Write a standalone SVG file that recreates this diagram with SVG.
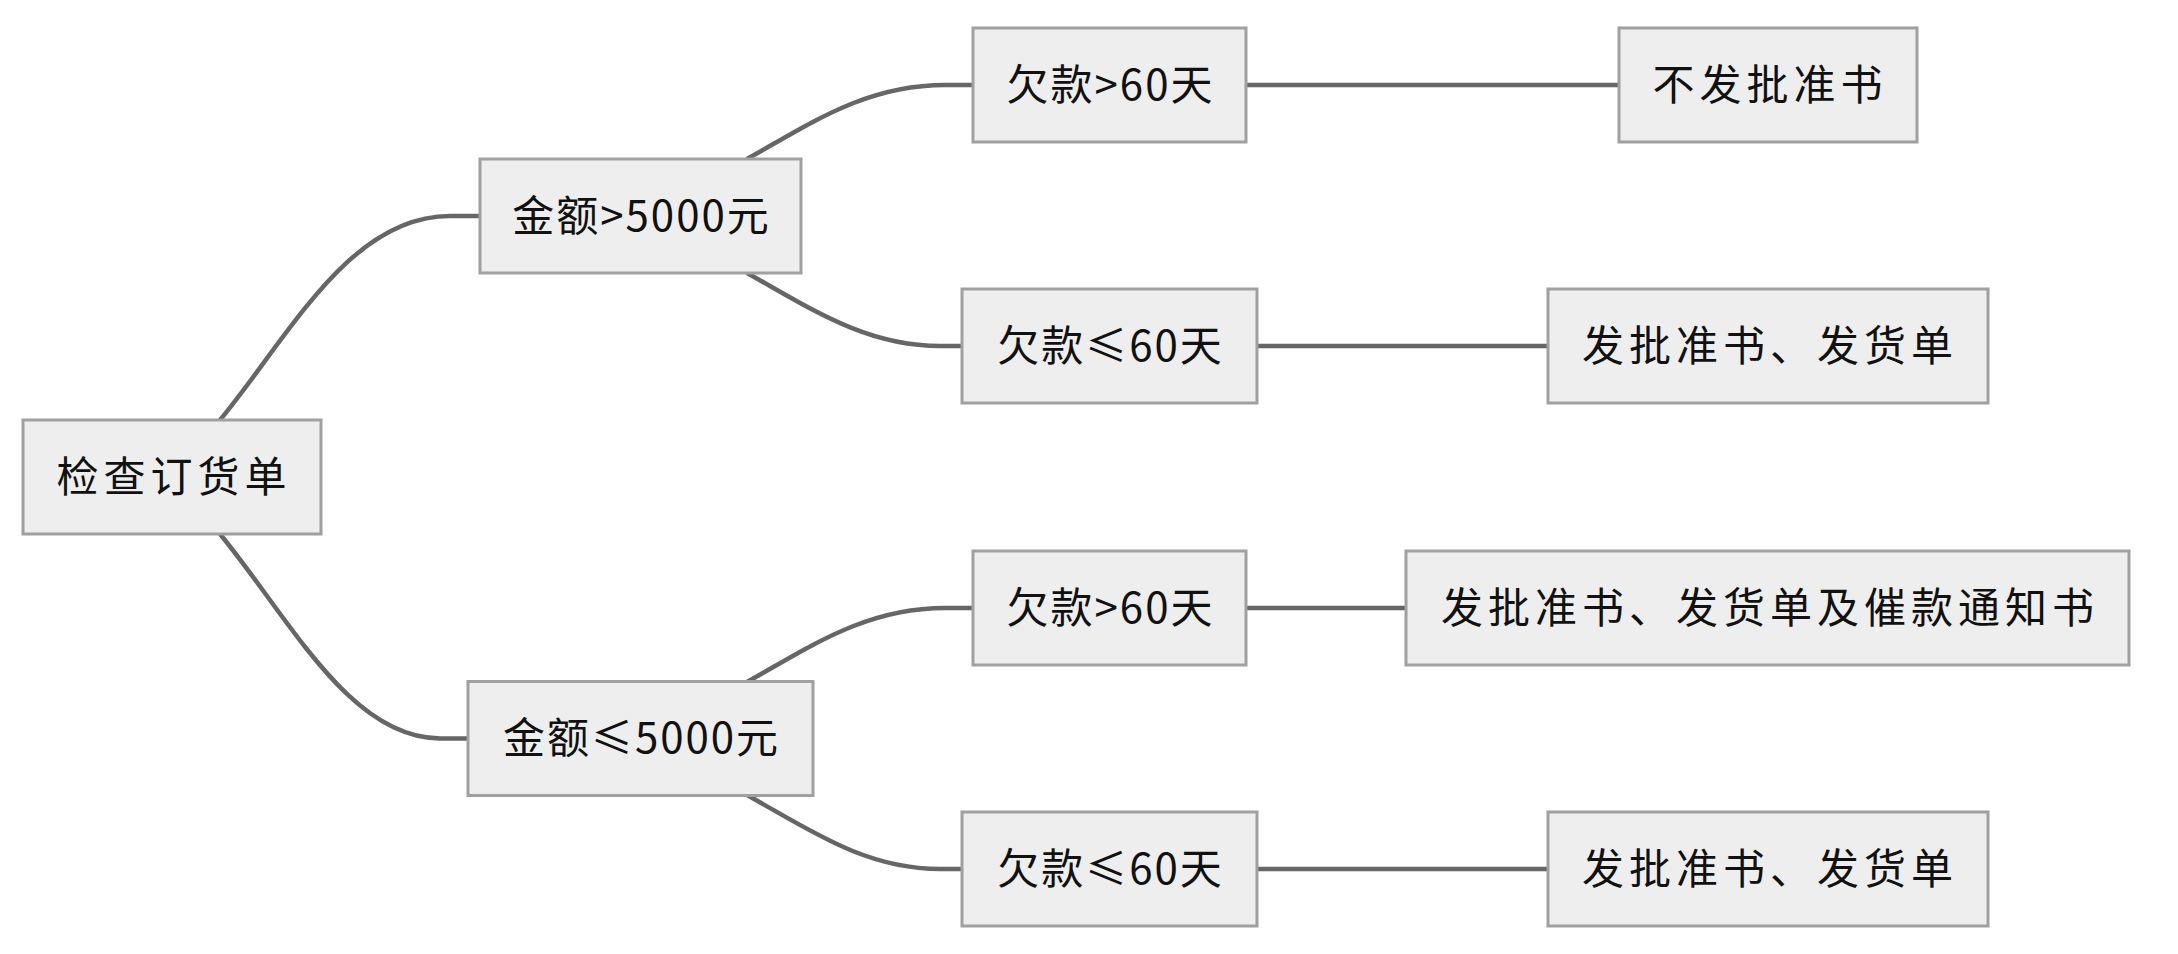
<svg xmlns="http://www.w3.org/2000/svg" width="2178" height="954" viewBox="0 0 2178 954">
<style>
.node rect{fill:#eeeeee;stroke:#a0a0a0;stroke-width:3}
.node text{font-family:"Noto Sans CJK SC","Liberation Sans",sans-serif;font-size:42px;fill:#111;text-anchor:middle;dominant-baseline:central;letter-spacing:5px}
.node text.mix{letter-spacing:2px}
.edges path{fill:none;stroke:#666666;stroke-width:4.5}
</style>
<rect width="2178" height="954" fill="#ffffff"/>
<g class="edges" id="connectors">
<path d="M220,420 C290,335 350,216 450,216 L480,216"/>
<path d="M220,534 C290,619 350,738.5 440,738.5 L468,738.5"/>
<path d="M747,159 C810,124 865,85 945,85 L973,85"/>
<path d="M747,273 C810,308 865,346 940,346 L962,346"/>
<path d="M747,682 C810,647 865,608 945,608 L973,608"/>
<path d="M747,795 C810,830 865,869 940,869 L962,869"/>
<path d="M1246,85 L1619,85"/>
<path d="M1257,346 L1548,346"/>
<path d="M1246,608 L1406,608"/>
<path d="M1257,869 L1548,869"/>
</g>
<g class="node" id="n1"><rect x="23" y="420" width="298" height="114"/><text x="174" y="473">检查订货单</text></g>
<g class="node" id="n2"><rect x="480" y="159" width="321" height="114"/><text class="mix" x="641.5" y="212">金额&gt;5000元</text></g>
<g class="node" id="n3"><rect x="973" y="28" width="273" height="114"/><text class="mix" x="1110.5" y="81">欠款&gt;60天</text></g>
<g class="node" id="n4"><rect x="1619" y="28" width="298" height="114"/><text x="1770" y="81">不发批准书</text></g>
<g class="node" id="n5"><rect x="962" y="289" width="295" height="114"/><text class="mix" x="1110.5" y="342">欠款≤60天</text></g>
<g class="node" id="n6"><rect x="1548" y="289" width="440" height="114"/><text x="1770" y="342">发批准书、发货单</text></g>
<g class="node" id="n7"><rect x="468" y="681.5" width="345" height="114"/><text class="mix" x="641.5" y="734.5">金额≤5000元</text></g>
<g class="node" id="n8"><rect x="973" y="551" width="273" height="114"/><text class="mix" x="1110.5" y="604">欠款&gt;60天</text></g>
<g class="node" id="n9"><rect x="1406" y="551" width="723" height="114"/><text x="1770" y="604">发批准书、发货单及催款通知书</text></g>
<g class="node" id="n10"><rect x="962" y="812" width="295" height="114"/><text class="mix" x="1110.5" y="865">欠款≤60天</text></g>
<g class="node" id="n11"><rect x="1548" y="812" width="440" height="114"/><text x="1770" y="865">发批准书、发货单</text></g>
</svg>
